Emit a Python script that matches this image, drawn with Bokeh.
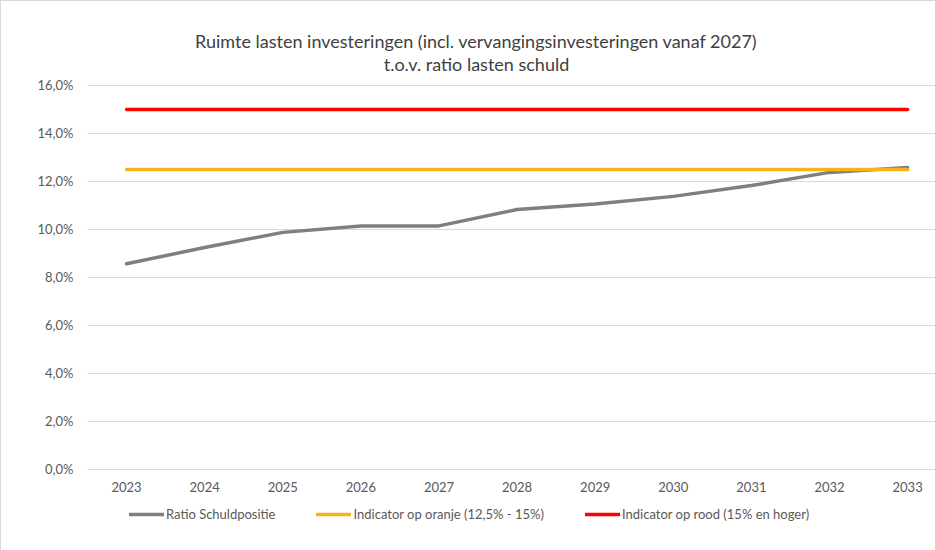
from bokeh.plotting import figure
from bokeh.models import FixedTicker, Label, Legend, LegendItem, ColumnDataSource
from bokeh.core.properties import value
from bokeh.embed import file_html
from bokeh.resources import INLINE

years = [2023, 2024, 2025, 2026, 2027, 2028, 2029, 2030, 2031, 2032, 2033]
year_labels = [str(y) for y in years]
ratio_schuldpositie = [8.57, 9.25, 9.88, 10.15, 10.15, 10.83, 11.06, 11.38, 11.83, 12.38, 12.58]
indicator_oranje = [12.5] * 11
indicator_rood = [15.0] * 11
y_ticks = [0, 2, 4, 6, 8, 10, 12, 14, 16]
y_tick_labels = ["0,0%", "2,0%", "4,0%", "6,0%", "8,0%", "10,0%", "12,0%", "14,0%", "16,0%"]
title_lines = ["Ruimte lasten investeringen (incl. vervangingsinvesteringen vanaf 2027)",
               "t.o.v. ratio lasten schuld"]
series_names = ["Ratio Schuldpositie", "Indicator op oranje (12,5% - 15%)", "Indicator op rood (15% en hoger)"]
series_colors = ["#7f7f7f", "#f5b31b", "#ff0000"]

FONT = "Lato"
TXT = "#595959"

# frame covers the whole chart area; y range extends above/below the 0-16% scale
p = figure(width=935, height=550, output_backend="svg", toolbar_location=None,
           x_range=(2022.5, 2033.37), y_range=(-3.4167, 19.5),
           min_border_left=86, min_border_right=0, min_border_top=0, min_border_bottom=0)
p.styles = {"border-top": "1px solid #d9d9d9", "border-left": "1px solid #d9d9d9"}
p.outline_line_color = None
p.background_fill_color = "white"
p.border_fill_color = "white"
p.xaxis.visible = False

src = ColumnDataSource(dict(x=years, r=ratio_schuldpositie, o=indicator_oranje, d=indicator_rood))
r1 = p.line("x", "r", source=src, line_color=series_colors[0], line_width=3.5, line_cap="round")
r2 = p.line("x", "o", source=src, line_color=series_colors[1], line_width=3.5, line_cap="round")
r3 = p.line("x", "d", source=src, line_color=series_colors[2], line_width=3.5, line_cap="round")

# y axis
p.yaxis.ticker = FixedTicker(ticks=y_ticks)
p.yaxis.major_label_overrides = {t: l for t, l in zip(y_ticks, y_tick_labels)}
p.yaxis.axis_line_color = None
p.yaxis.major_tick_line_color = None
p.yaxis.minor_tick_line_color = None
p.yaxis.major_tick_out = 0
p.yaxis.major_label_standoff = 14
p.yaxis.major_label_text_font = FONT
p.yaxis.major_label_text_font_size = "13px"
p.yaxis.major_label_text_color = TXT

p.xgrid.grid_line_color = None
p.ygrid.ticker = FixedTicker(ticks=y_ticks)
p.ygrid.grid_line_color = "#d9d9d9"
p.ygrid.grid_line_width = 1

# x category labels below the 0% line
lab_src = ColumnDataSource(dict(x=years, y=[-0.75] * len(years), t=year_labels))
p.text("x", "y", text="t", source=lab_src, text_align="center", text_baseline="middle",
       text_font=value(FONT), text_font_size="13px", text_color=TXT)

# title
for t, yy in zip(title_lines, [17.84, 16.88]):
    p.add_layout(Label(x=2027.48, y=yy, text=t, text_align="center", text_baseline="middle",
                       text_font=FONT, text_font_size="18px", text_color="#404040"))

legend = Legend(items=[LegendItem(label=n, renderers=[r]) for n, r in zip(series_names, [r1, r2, r3])],
                orientation="horizontal", location=(42, 29), glyph_width=35, glyph_height=14,
                label_standoff=2, spacing=41, padding=0, margin=0,
                label_text_font=FONT, label_text_font_size="13px", label_text_color=TXT,
                border_line_color=None, background_fill_alpha=0)
p.add_layout(legend, "center")

open("out.html", "w").write(file_html(p, INLINE))
